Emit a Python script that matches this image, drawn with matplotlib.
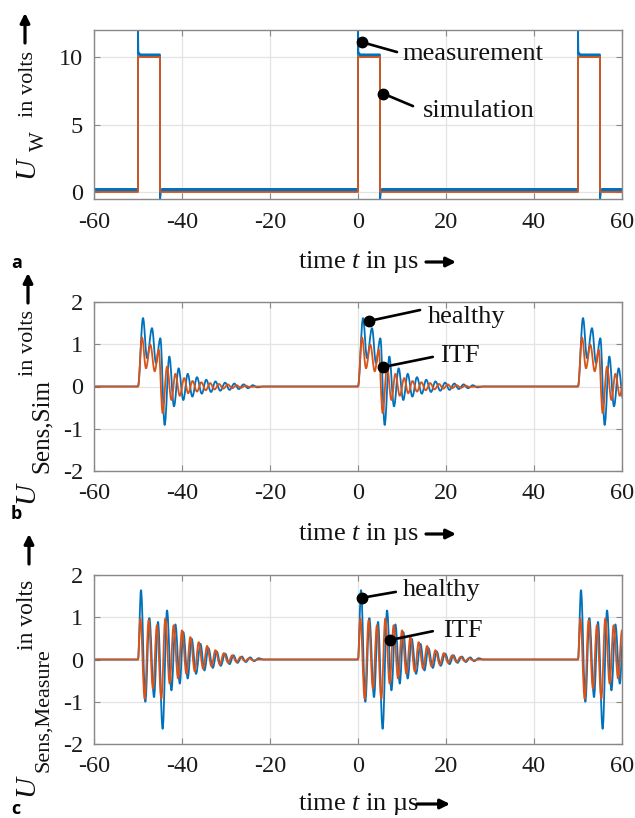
import numpy as np
import matplotlib
matplotlib.use("Agg")
import matplotlib.pyplot as plt
from matplotlib.path import Path
from matplotlib.patches import PathPatch

plt.rcParams['font.family'] = ['Liberation Serif', 'DejaVu Serif']
plt.rcParams['mathtext.fontset'] = 'custom'
plt.rcParams['mathtext.rm'] = 'Liberation Serif'
plt.rcParams['mathtext.it'] = 'Liberation Serif:italic'
plt.rcParams['axes.unicode_minus'] = False

W, H = 635, 818
BLUE = '#0072BD'
ORANGE = '#D95319'

# pulse / burst start times in microseconds
burst_starts = [-50, 0, 50]

# panel a: excitation voltage, one pulse (relative time, value)
sim_pulse_t = [0, 0, 5, 5]
sim_pulse_v = [0, 10, 10, 0]
sim_base = 0.0
meas_pulse_t = [0, 0, 0.1, 0.5, 5, 5, 5.2]
meas_pulse_v = [0.2, 12.6, 10.3, 10.15, 10.15, -0.8, 0.2]
meas_base = 0.2
meas_noise = 0.15  # half width of the noise band

# panel b: simulated sensor voltage, extrema of one burst
simb_healthy_t = [0, 1.14, 2.05, 3.18, 4.09, 5.08, 6.06, 7.12, 8.18, 9.24, 10.3, 11.3,
                  12.35, 13.4, 14.5, 15.5, 16.6, 17.6, 18.7, 19.8, 20.8, 21.9, 22.9, 24.0,
                  25.0, 26.1, 27.1, 28.5]
simb_healthy_v = [0, 1.62, 0.67, 1.38, 0.55, 1.14, -0.91, 0.71, -0.47, 0.43, -0.32, 0.30,
                  -0.24, 0.22, -0.17, 0.16, -0.13, 0.12, -0.10, 0.09, -0.08, 0.07, -0.06, 0.05,
                  -0.04, 0.03, -0.02, 0]
simb_itf_t = [0, 0.91, 1.82, 2.8, 3.8, 4.7, 5.6, 6.6, 7.6, 8.5, 9.5, 10.5, 11.4, 12.4,
              13.4, 14.4, 15.4, 16.4, 17.4, 18.4, 19.4, 20.4, 21.4, 22.4, 23.4, 24.4, 25.4, 27]
simb_itf_v = [0, 1.16, 0.43, 0.99, 0.36, 0.87, -0.63, 0.47, -0.32, 0.30, -0.22, 0.20,
              -0.16, 0.13, -0.12, 0.10, -0.09, 0.08, -0.07, 0.06, -0.05, 0.05, -0.04, 0.03,
              -0.03, 0.02, -0.01, 0]

# panel c: measured sensor voltage, extrema of one burst
meas_healthy_t = [0, 0.68, 1.67, 2.58, 3.64, 4.55, 5.6, 6.6, 7.6, 8.5, 9.5, 10.3, 11.3,
                  12.2, 13.2, 14.2, 15.1, 16.0, 17.0, 17.9, 18.8, 19.8, 20.8, 21.7, 22.6,
                  23.6, 24.5, 25.5, 26.4, 27.4, 28.5]
meas_healthy_v = [0, 1.64, -1.0, 0.98, -0.89, 0.89, -1.64, 1.16, -0.73, 0.83, -0.57, 0.65,
                  -0.45, 0.49, -0.34, 0.37, -0.26, 0.27, -0.20, 0.19, -0.15, 0.14, -0.11, 0.10,
                  -0.08, 0.07, -0.06, 0.05, -0.04, 0.03, 0]
meas_itf_t = [0, 0.53, 1.52, 2.42, 3.4, 4.3, 5.3, 6.2, 7.2, 8.1, 9.1, 10.0, 11.0, 11.9,
              12.9, 13.8, 14.8, 15.7, 16.7, 17.6, 18.6, 19.5, 20.5, 21.4, 22.4, 23.3, 24.3,
              25.2, 26.2, 27.5]
meas_itf_v = [0, 0.97, -0.93, 0.93, -0.69, 0.81, -0.93, 0.97, -0.57, 0.81, -0.45, 0.69,
              -0.34, 0.53, -0.28, 0.41, -0.22, 0.32, -0.16, 0.22, -0.12, 0.15, -0.08, 0.10,
              -0.06, 0.06, -0.04, 0.03, -0.02, 0]

xticks = [-60, -40, -20, 0, 20, 40, 60]


def repeat_bursts(rel_t, rel_v, base):
    t = [-60.0]
    v = [base]
    for t0 in burst_starts:
        t += [t0 + x for x in rel_t]
        v += list(rel_v)
    t.append(60.0)
    v.append(base)
    return np.array(t), np.array(v)


def smooth_line(ax, t, v, color, lw):
    # cubic segments with flat tangents at every extremum
    verts = [(t[0], v[0])]
    codes = [Path.MOVETO]
    for i in range(1, len(t)):
        d = (t[i] - t[i - 1]) * 0.36
        verts += [(t[i - 1] + d, v[i - 1]), (t[i] - d, v[i]), (t[i], v[i])]
        codes += [Path.CURVE4] * 3
    ax.add_patch(PathPatch(Path(verts, codes), facecolor='none', edgecolor=color, lw=lw,
                           capstyle='round', joinstyle='round'))


def px_rect(l, t, r, b):
    return [l / W, 1 - b / H, (r - l) / W, (b - t) / H]


def fx(x):
    return x / W


def fy(y):
    return 1 - y / H


def style_axes(ax, ylim, yticks):
    ax.set_xlim(-60, 60)
    ax.set_ylim(*ylim)
    ax.set_xticks(xticks)
    ax.set_yticks(yticks)
    ax.grid(True, color='#e3e3e3', lw=0.9)
    ax.set_axisbelow(True)
    for s in ax.spines.values():
        s.set_color('#888888')
        s.set_linewidth(1.0)
    ax.tick_params(direction='in', top=True, right=True, length=4, width=0.8,
                   color='#888888', labelsize=17.5, labelcolor='#1a1a1a')
    ax.tick_params(axis='x', pad=9)
    ax.tick_params(axis='y', pad=8)


def note(ax, dot, end, text_pos, label):
    ax.annotate('', xy=dot, xytext=end,
                arrowprops=dict(arrowstyle='-', lw=1.9, color='k', shrinkA=0, shrinkB=0))
    ax.plot(*dot, 'o', color='k', ms=7.5, zorder=5)
    ax.text(*text_pos, label, fontsize=19, ha='left', va='baseline', color='#111111')


def arrow(x0, y0, x1, y1):
    fig.add_artist(plt.Annotation('', xy=(fx(x1), fy(y1)), xytext=(fx(x0), fy(y0)),
                                  xycoords='figure fraction', textcoords='figure fraction',
                                  arrowprops=dict(arrowstyle='-|>', lw=2.3, color='k',
                                                  mutation_scale=14, shrinkA=0, shrinkB=0)))


def vtext(x, y, s, size, style='normal'):
    fig.text(fx(x), fy(y), s, fontsize=size, style=style, rotation=90,
             rotation_mode='anchor', ha='left', va='baseline', color='#111111')


fig = plt.figure(figsize=(W / 100, H / 100), dpi=100)

# ---- panel a
ax1 = fig.add_axes(px_rect(94, 30, 622, 199))
t, v = repeat_bursts(meas_pulse_t, meas_pulse_v, meas_base)
ax1.fill_between(t, v - meas_noise, v + meas_noise, color=BLUE, lw=0)
ax1.plot(t, v, color=BLUE, lw=1.2)
t, v = repeat_bursts(sim_pulse_t, sim_pulse_v, sim_base)
ax1.plot(t, v, color=ORANGE, lw=1.3)
style_axes(ax1, (-0.5, 12), [0, 5, 10])
note(ax1, (0.9, 11.1), (8.86, 10.37), (10.2, 9.78), 'measurement')
note(ax1, (5.7, 7.3), (12.5, 6.37), (14.8, 5.55), 'simulation')

# ---- panel b
ax2 = fig.add_axes(px_rect(94, 302, 622, 471))
t, v = repeat_bursts(simb_healthy_t, simb_healthy_v, 0)
smooth_line(ax2, t, v, BLUE, 1.3)
t, v = repeat_bursts(simb_itf_t, simb_itf_v, 0)
smooth_line(ax2, t, v, ORANGE, 1.3)
style_axes(ax2, (-2, 2), [-2, -1, 0, 1, 2])
note(ax2, (2.5, 1.55), (14.1, 1.81), (15.9, 1.50), 'healthy')
note(ax2, (5.7, 0.46), (17.0, 0.70), (18.6, 0.58), 'ITF')

# ---- panel c
ax3 = fig.add_axes(px_rect(94, 575, 622, 744))
t, v = repeat_bursts(meas_healthy_t, meas_healthy_v, 0)
smooth_line(ax3, t, v, BLUE, 1.3)
t, v = repeat_bursts(meas_itf_t, meas_itf_v, 0)
smooth_line(ax3, t, v, ORANGE, 1.3)
style_axes(ax3, (-2, 2), [-2, -1, 0, 1, 2])
note(ax3, (0.9, 1.46), (8.6, 1.60), (10.2, 1.50), 'healthy')
note(ax3, (7.3, 0.46), (17.0, 0.67), (19.3, 0.53), 'ITF')

# x labels with arrows
for base_y, ax_ in [(268, (426, 456)), (540, (426, 456)), (810, (417, 450))]:
    fig.text(fx(298), fy(base_y), 'time $t$ in µs', fontsize=19, ha='left', va='baseline',
             color='#111111')
    arrow(ax_[0], base_y - 6, ax_[1], base_y - 6)

# y labels built from pieces, with arrows
vtext(33, 178, 'U', 21, 'italic')
vtext(44, 151, 'W', 15)
vtext(33, 117, 'in volts', 16)
arrow(25, 43, 25, 13)

vtext(33, 503, 'U', 21, 'italic')
vtext(48, 473, 'Sens,Sim', 18)
vtext(33, 376, 'in volts', 16)
arrow(28, 303, 28, 273)

vtext(33, 796, 'U', 21, 'italic')
vtext(48, 772, 'Sens,Measure', 16)
vtext(33, 650, 'in volts', 17)
arrow(29, 564, 29, 534)

# panel letters
for letter, y in [('a', 263), ('b', 514), ('c', 809)]:
    fig.text(fx(11), fy(y), letter, fontsize=13, fontweight='bold', family='Open Sans',
             ha='left', va='center')

fig.savefig('out.png', dpi=100)
